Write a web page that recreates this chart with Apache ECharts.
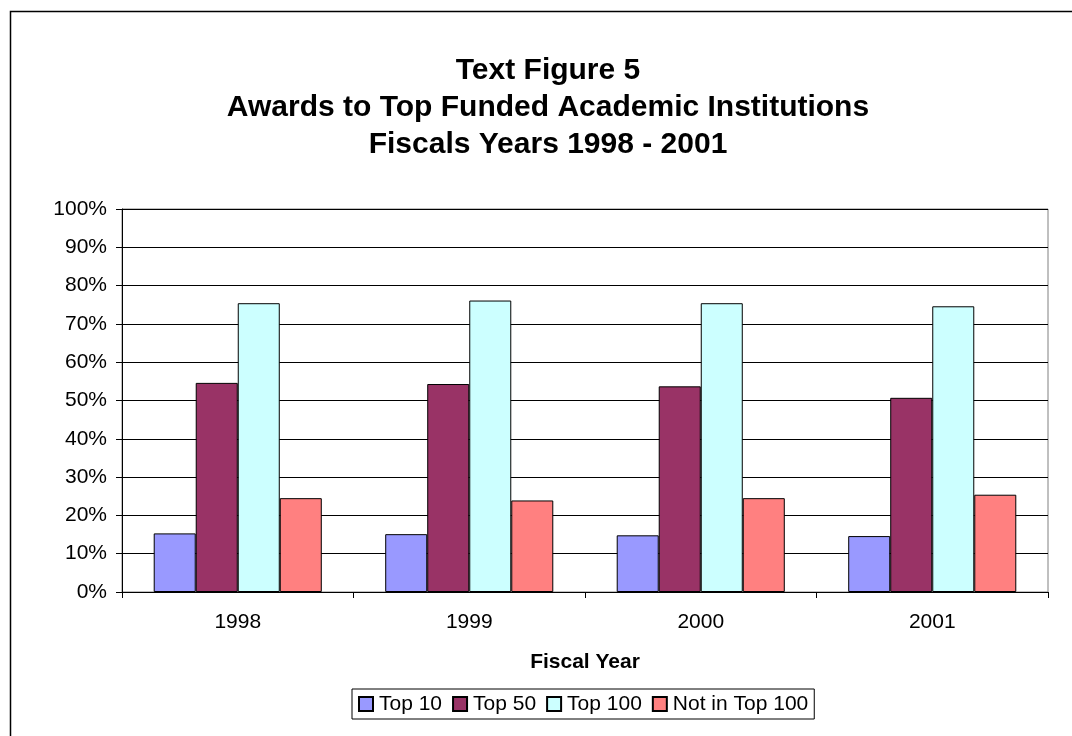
<!DOCTYPE html>
<html>
<head>
<meta charset="utf-8">
<script src="https://cdn.jsdelivr.net/npm/echarts@6/dist/echarts.min.js"></script>
<style>
html,body{margin:0;padding:0;background:#fff;}
#chart{width:1072px;height:736px;}
</style>
</head>
<body>
<div id="chart"></div>
<script>
const categories = ['1998', '1999', '2000', '2001'];
const top10 = [15.3, 15.1, 14.8, 14.6];
const top50 = [54.6, 54.3, 53.7, 50.7];
const top100 = [75.4, 76.1, 75.4, 74.6];
const notInTop100 = [24.5, 23.9, 24.5, 25.4];
const seriesNames = ['Top 10', 'Top 50', 'Top 100', 'Not in Top 100'];
const seriesColors = ['#9999FF', '#993366', '#CCFFFF', '#FF8080'];
const yTicks = [0, 10, 20, 30, 40, 50, 60, 70, 80, 90, 100];

const FONT = '"Liberation Sans", Arial, sans-serif';
const chart = echarts.init(document.getElementById('chart'));
const values = [top10, top50, top100, notInTop100];

chart.setOption({
  animation: false,
  backgroundColor: '#fff',
  graphic: [{
    type: 'rect',
    shape: { x: 10.5, y: 11.5, width: 1100, height: 800 },
    style: { fill: 'none', stroke: '#000', lineWidth: 1.5 },
    silent: true
  }],
  title: {
    text: 'Text Figure 5\nAwards to Top Funded Academic Institutions\nFiscals Years 1998 - 2001',
    left: 543, textAlign: 'center',
    top: 47,
    textStyle: { fontFamily: FONT, fontWeight: 'bold', fontSize: 30, lineHeight: 37, color: '#000' }
  },
  legend: {
    data: seriesNames,
    left: 352, top: 689,
    orient: 'horizontal',
    itemWidth: 14, itemHeight: 14, itemGap: 10,
    padding: [4, 6, 4, 6],
    borderColor: '#000', borderWidth: 1,
    textStyle: { fontFamily: FONT, fontSize: 21, color: '#000', padding: [0, 0, 0, 1], lineHeight: 22 },
    icon: 'rect'
  },
  grid: {
    left: 122, right: 24, top: 209, bottom: 144,
    show: true, borderColor: '#808080', borderWidth: 1, backgroundColor: '#fff'
  },
  xAxis: {
    type: 'category',
    data: categories,
    boundaryGap: true,
    name: 'Fiscal Year',
    nameLocation: 'middle',
    nameGap: 60,
    nameTextStyle: { fontFamily: FONT, fontWeight: 'bold', fontSize: 21, color: '#000' },
    axisLine: { lineStyle: { color: '#000', width: 1 } },
    axisTick: { show: true, length: 6, inside: false, lineStyle: { color: '#000' } },
    axisLabel: { fontFamily: FONT, fontSize: 21, color: '#000', margin: 20 }
  },
  yAxis: {
    type: 'value',
    min: 0, max: 100, interval: 10,
    axisLine: { show: true, lineStyle: { color: '#000', width: 1 } },
    axisTick: { show: true, length: 6, lineStyle: { color: '#000' } },
    axisLabel: { fontFamily: FONT, fontSize: 21, color: '#000', margin: 15, formatter: v => yTicks.includes(v) ? v + '%' : '' },
    splitLine: { show: true, lineStyle: { color: '#000', width: 1 } }
  },
  series: seriesNames.map((n, i) => ({
    name: n,
    type: 'bar',
    data: values[i],
    barGap: '0%',
    barCategoryGap: '27.4%',
    itemStyle: { color: seriesColors[i], borderColor: '#000', borderWidth: 1 }
  }))
});
</script>
</body>
</html>
